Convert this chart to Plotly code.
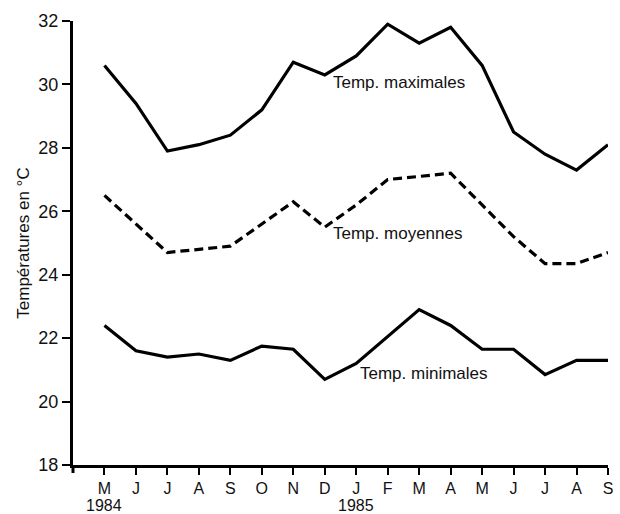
import plotly.graph_objects as go

months = ["M", "J", "J", "A", "S", "O", "N", "D", "J", "F", "M", "A", "M", "J", "J", "A", "S"]
years = ["1984", "1985"]
year_pos = [0, 8]

t_max = [30.6, 29.4, 27.9, 28.1, 28.4, 29.2, 30.7, 30.3, 30.9, 31.9, 31.3, 31.8, 30.6, 28.5, 27.8, 27.3, 28.1]
t_moy = [26.5, 25.6, 24.7, 24.8, 24.9, 25.6, 26.3, 25.5, 26.2, 27.0, 27.1, 27.2, 26.2, 25.2, 24.35, 24.35, 24.7]
t_min = [22.4, 21.6, 21.4, 21.5, 21.3, 21.75, 21.65, 20.7, 21.2, 22.05, 22.9, 22.4, 21.65, 21.65, 20.85, 21.3, 21.3]

labels = ["Temp. maximales", "Temp. moyennes", "Temp. minimales"]
label_x = [7.2, 7.2, 8.05]
label_y = [30.05, 25.3, 20.9]

x = list(range(len(months)))
FONT = "Liberation Sans, Arial, sans-serif"

fig = go.Figure()
fig.add_trace(go.Scatter(x=x, y=t_max, mode="lines", line=dict(color="black", width=3.2), showlegend=False))
fig.add_trace(go.Scatter(x=x, y=t_moy, mode="lines", line=dict(color="black", width=3.2, dash="9px,5px"), showlegend=False))
fig.add_trace(go.Scatter(x=x, y=t_min, mode="lines", line=dict(color="black", width=3.2), showlegend=False))

for t, lx, ly in zip(labels, label_x, label_y):
    fig.add_annotation(x=lx, y=ly, text=t, showarrow=False, xanchor="left", yanchor="middle",
                       font=dict(family=FONT, size=17, color="#111"))

for yr, xp in zip(years, year_pos):
    fig.add_annotation(x=xp, xref="x", y=-0.091, yref="paper", text=yr, showarrow=False,
                       xanchor="center", yanchor="middle", font=dict(family=FONT, size=16, color="#111"))

fig.add_annotation(x=-0.094, xref="paper", y=0.50, yref="paper", text="Températures en °C",
                   textangle=-90, showarrow=False, xanchor="center", yanchor="middle",
                   font=dict(family=FONT, size=17, color="#111"))

# small extension of the y axis line below the x axis
fig.add_shape(type="line", xref="paper", yref="paper", x0=0, x1=0, y0=-0.018, y1=0,
              line=dict(color="black", width=3))

fig.update_xaxes(range=[-1, 16], tickvals=x, ticktext=months, showline=True, linecolor="black", linewidth=3,
                 ticks="outside", ticklen=7, tickwidth=2, tickcolor="black", showgrid=False, zeroline=False,
                 tickfont=dict(family=FONT, size=16, color="#111"))
fig.update_yaxes(range=[18, 32], tickvals=[18, 20, 22, 24, 26, 28, 30, 32], showline=True, linecolor="black",
                 linewidth=3, ticks="outside", ticklen=8, tickwidth=2, tickcolor="black", showgrid=False,
                 zeroline=False, tickfont=dict(family=FONT, size=18, color="#111"))

fig.update_layout(width=620, height=514, margin=dict(l=73, r=7, t=21, b=49),
                  plot_bgcolor="white", paper_bgcolor="white")

fig.write_html("out.html", config={"displayModeBar": False},
               post_script="document.body.style.margin='0';document.body.style.overflow='hidden';")
